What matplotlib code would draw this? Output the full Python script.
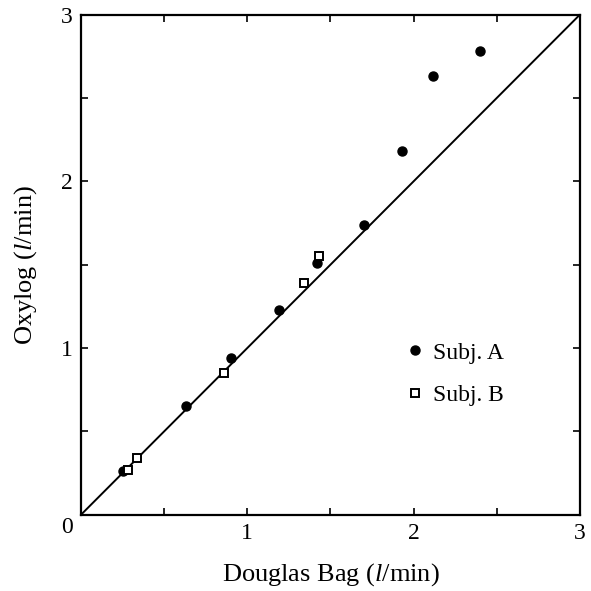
import numpy as np
import matplotlib.pyplot as plt
from matplotlib.ticker import MultipleLocator

plt.rcParams['font.family'] = ['Liberation Serif', 'DejaVu Serif']
plt.rcParams['mathtext.fontset'] = 'custom'
plt.rcParams['mathtext.it'] = 'Liberation Serif:italic'
plt.rcParams['mathtext.rm'] = 'Liberation Serif'

# Subject A (filled circles)
a_bag = [0.25, 0.63, 0.90, 1.19, 1.42, 1.70, 1.93, 2.12, 2.40]
a_oxy = [0.26, 0.65, 0.94, 1.23, 1.51, 1.74, 2.18, 2.63, 2.78]

# Subject B (open squares)
b_bag = [0.28, 0.34, 0.86, 1.34, 1.43]
b_oxy = [0.27, 0.34, 0.85, 1.39, 1.55]

identity = [0, 3]

fig = plt.figure(figsize=(5.91, 5.91), dpi=100)
ax = fig.add_axes([0.137, 0.129, 0.844, 0.846])

ax.plot(identity, identity, color='black', lw=1.4)
ax.plot(a_bag, a_oxy, 'o', color='black', ms=6.5, label='Subj. A')
ax.plot(b_bag, b_oxy, 's', mfc='white', mec='black', mew=1.4, ms=5.5, label='Subj. B')

ax.set_xlim(0, 3)
ax.set_ylim(0, 3)
ax.xaxis.set_minor_locator(MultipleLocator(0.5))
ax.yaxis.set_minor_locator(MultipleLocator(0.5))
ax.tick_params(which='both', direction='in', top=True, right=True, length=5, width=1.2)
ax.tick_params(which='major', labelsize=17, pad=6)
ax.set_xticks([0, 1, 2, 3])
ax.set_xticklabels(['', '1', '2', '3'])
ax.set_yticks([0, 1, 2, 3])
ax.set_yticklabels(['', '1', '2', '3'])
ax.text(-0.028, -0.026, '0', transform=ax.transAxes, fontsize=17, ha='center', va='center')

for s in ax.spines.values():
    s.set_linewidth(1.6)

ax.set_xlabel(r'Douglas Bag ($l$/min)', fontsize=19, labelpad=12)
ax.set_ylabel(r'Oxylog ($l$/min)', fontsize=19, labelpad=16)

ax.legend(loc='upper left', bbox_to_anchor=(0.603, 0.388), frameon=False,
          fontsize=17, handlelength=1.0, handletextpad=0.25, labelspacing=0.9)

fig.savefig('out.png', dpi=100)
